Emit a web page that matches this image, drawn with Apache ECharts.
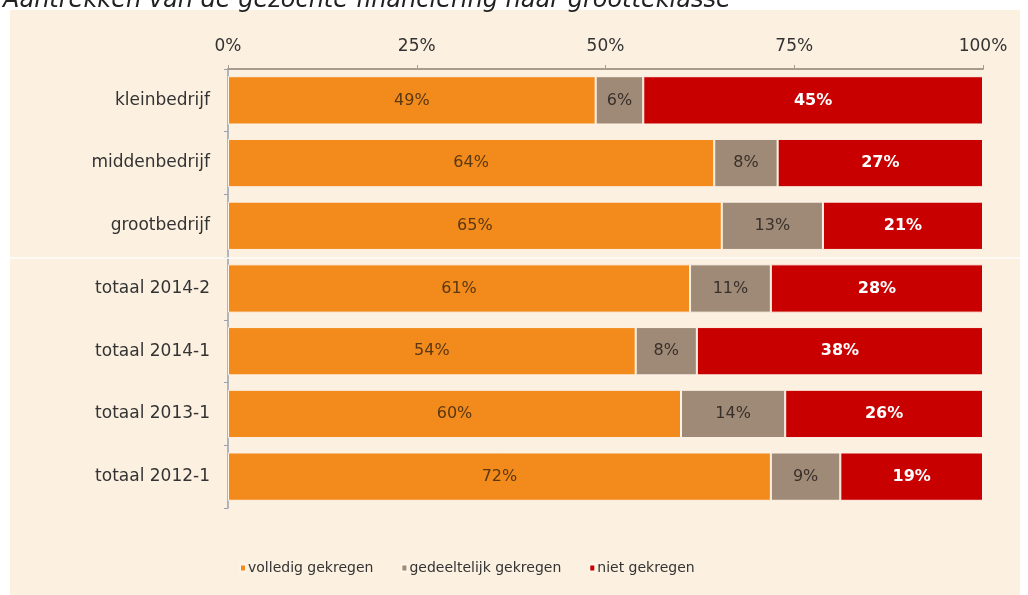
<!DOCTYPE html>
<html>
<head>
<meta charset="utf-8">
<script src="https://cdn.jsdelivr.net/npm/echarts@6/dist/echarts.min.js"></script>
<style>
  html, body { margin: 0; padding: 0; background: #fff; }
  #chart { width: 1028px; height: 595px; }
</style>
</head>
<body>
<div id="chart"></div>
<script>
// categories top to bottom
const categories = ['kleinbedrijf', 'middenbedrijf', 'grootbedrijf', 'totaal 2014-2', 'totaal 2014-1', 'totaal 2013-1', 'totaal 2012-1']
const seriesNames = ['volledig gekregen', 'gedeeltelijk gekregen', 'niet gekregen']
// shares in % (labels show rounded values)
const volledig = [48.7, 64.4, 65.4, 61.2, 54.0, 60.0, 71.9]
const gedeeltelijk = [6.3, 8.4, 13.4, 10.7, 8.1, 13.8, 9.2]
const niet = [45.0, 27.2, 21.2, 28.1, 37.9, 26.2, 18.9]
const xTicks = [0, 25, 50, 75, 100]

const colors = ['#f28a1c', '#9e8a76', '#c80000']
const labelColors = ['#5a3812', '#3a302a', '#ffffff']

const chart = echarts.init(document.getElementById('chart'))
const font = '"DejaVu Sans", Verdana, sans-serif'

function bar(name, data, i) {
  return {
    name: name,
    type: 'bar',
    stack: 'total',
    barWidth: '77%',
    data: data,
    itemStyle: { color: colors[i], borderColor: '#fdf3e6', borderWidth: 1 },
    label: {
      show: true,
      position: 'inside',
      color: labelColors[i],
      fontFamily: font,
      fontSize: 16,
      fontWeight: i === 2 ? 'bold' : 'normal',
      formatter: p => Math.round(p.value) + '%'
    }
  }
}

chart.setOption({
  animation: false,
  textStyle: { fontFamily: font },
  title: {
    text: 'Aantrekken van de gezochte financiering naar grootteklasse',
    left: -2,
    top: -16,
    textStyle: { fontFamily: font, fontStyle: 'italic', fontWeight: 'normal', fontSize: 24, color: '#222' }
  },
  graphic: [
    { type: 'rect', z: -10, shape: { x: 10, y: 10, width: 1010, height: 585 }, style: { fill: '#fcf0e0' } },
    { type: 'line', z: 100, shape: { x1: 10, y1: 258, x2: 1020, y2: 258 }, style: { stroke: '#ffffff', lineWidth: 1.5 } }
  ],
  legend: {
    top: 556,
    left: 234,
    itemWidth: 6,
    itemHeight: 7,
    itemGap: 27,
    icon: 'rect',
    textStyle: { fontFamily: font, fontSize: 14, color: '#333', padding: [0, 0, 0, -3] },
    data: seriesNames
  },
  grid: { left: 228, right: 45, top: 69, bottom: 87 },
  xAxis: {
    type: 'value',
    position: 'top',
    min: xTicks[0],
    max: xTicks[xTicks.length - 1],
    interval: 25,
    axisLine: { show: true, lineStyle: { color: '#a89c90', width: 2 } },
    axisTick: { show: true, length: 4, lineStyle: { color: '#a89c90' } },
    splitLine: { show: false },
    axisLabel: { formatter: '{value}%', fontFamily: font, fontSize: 17, color: '#333', margin: 14 }
  },
  yAxis: {
    type: 'category',
    inverse: true,
    data: categories,
    axisLine: { show: true, lineStyle: { color: '#9aa0b0', width: 1.5 } },
    axisTick: { show: true, length: 4, lineStyle: { color: '#9aa0b0' } },
    axisLabel: { fontFamily: font, fontSize: 17, color: '#333', margin: 18 }
  },
  series: [
    bar(seriesNames[0], volledig, 0),
    bar(seriesNames[1], gedeeltelijk, 1),
    bar(seriesNames[2], niet, 2)
  ]
})
</script>
</body>
</html>
